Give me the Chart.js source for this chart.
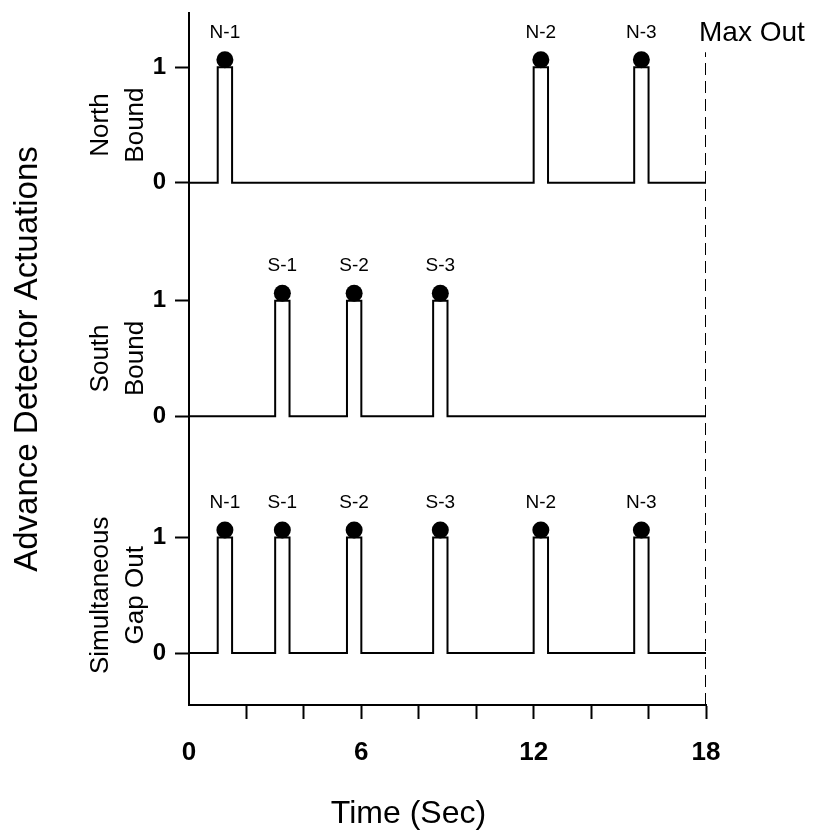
<!DOCTYPE html>
<html>
<head>
<meta charset="utf-8">
<script src="https://cdn.jsdelivr.net/npm/chart.js@4.4.1/dist/chart.umd.min.js"></script>
<style>
  html, body { margin: 0; padding: 0; background: #fff; }
</style>
</head>
<body>
<canvas id="chart" width="817" height="836"></canvas>
<script>
// 三段 detector 脈衝圖：North / South / Simultaneous Gap Out，共用同一條時間軸。
const FONT = '"Liberation Sans", Arial, Helvetica, sans-serif'

// pulse 起點 (sec)，每個寬 PULSE_WIDTH
const NORTH_ON = [1.0, 12.0, 15.5]
const NORTH_NAMES = ['N-1', 'N-2', 'N-3']
const SOUTH_ON = [3.0, 5.5, 8.5]
const SOUTH_NAMES = ['S-1', 'S-2', 'S-3']
const GAP_ON = [1.0, 3.0, 5.5, 8.5, 12.0, 15.5]
const GAP_NAMES = ['N-1', 'S-1', 'S-2', 'S-3', 'N-2', 'N-3']
const PULSE_WIDTH = 0.5
const MAX_OUT = 18

const X_TICKS = [0, 2, 4, 6, 8, 10, 12, 14, 16, 18]
const X_LABELS = [0, 6, 12, 18]
const Y_TICK_LABELS = ['0', '1']
const PANEL_TITLES = [['North', 'Bound'], ['South', 'Bound'], ['Simultaneous', 'Gap Out']]

// 版面：每段的基準高度（y 軸單位）
const PANEL_BASE = [4.07, 2.05, 0]
const Y_MIN = -0.45
const Y_MAX = 5.54
const DOT_LIFT = 0.065

const PANELS = [
  { on: NORTH_ON, names: NORTH_NAMES, title: PANEL_TITLES[0], base: PANEL_BASE[0] },
  { on: SOUTH_ON, names: SOUTH_NAMES, title: PANEL_TITLES[1], base: PANEL_BASE[1] },
  { on: GAP_ON, names: GAP_NAMES, title: PANEL_TITLES[2], base: PANEL_BASE[2] },
]

function stepPoints(on, base) {
  const pts = [{ x: 0, y: base }]
  on.forEach(t => {
    pts.push({ x: t, y: base }, { x: t, y: base + 1 },
      { x: t + PULSE_WIDTH, y: base + 1 }, { x: t + PULSE_WIDTH, y: base })
  })
  pts.push({ x: MAX_OUT, y: base })
  return pts
}

const lineSets = PANELS.map(p => ({
  data: stepPoints(p.on, p.base),
  borderColor: '#000',
  borderWidth: 2,
  pointRadius: 0,
  tension: 0,
  fill: false,
}))

const dotSet = {
  data: PANELS.flatMap(p => p.on.map(t => ({ x: t + PULSE_WIDTH / 2, y: p.base + 1 + DOT_LIFT }))),
  showLine: false,
  pointRadius: 8.5,
  pointBackgroundColor: '#000',
  pointBorderColor: '#000',
  pointBorderWidth: 0,
}

const maxOutSet = {
  data: [{ x: MAX_OUT, y: Y_MIN }, { x: MAX_OUT, y: 5.2 }],
  borderColor: '#000',
  borderWidth: 2,
  borderDash: [12, 6],
  pointRadius: 0,
}

const yTickValues = PANELS.slice().reverse().flatMap(p => [p.base, p.base + 1])

const annotate = {
  id: 'annotate',
  afterDatasetsDraw(chart) {
    const { ctx, scales: { x, y } } = chart
    ctx.save()
    ctx.fillStyle = '#000'

    ctx.font = `19px ${FONT}`
    ctx.textAlign = 'center'
    ctx.textBaseline = 'middle'
    PANELS.forEach(p => p.on.forEach((t, i) => {
      ctx.fillText(p.names[i], x.getPixelForValue(t + PULSE_WIDTH / 2), y.getPixelForValue(p.base + 1) - 35)
    }))

    ctx.font = `26px ${FONT}`
    ctx.textBaseline = 'alphabetic'
    PANELS.forEach(p => {
      const cy = y.getPixelForValue(p.base + 0.5)
      p.title.forEach((line, i) => {
        ctx.save()
        ctx.translate(108 + i * 35, cy)
        ctx.rotate(-Math.PI / 2)
        ctx.fillText(line, 0, 0)
        ctx.restore()
      })
    })

    ctx.font = `28px ${FONT}`
    ctx.textAlign = 'left'
    ctx.textBaseline = 'middle'
    ctx.fillText('Max Out', x.getPixelForValue(MAX_OUT) - 7, 33)
    ctx.restore()
  },
}

new Chart(document.getElementById('chart'), {
  type: 'line',
  data: { datasets: [...lineSets, dotSet, maxOutSet] },
  options: {
    responsive: false,
    animation: false,
    devicePixelRatio: 1,
    layout: { padding: { top: 13, left: 0, right: 0, bottom: 0 } },
    plugins: {
      legend: { display: false },
      tooltip: { enabled: false },
      title: {
        display: true,
        position: 'bottom',
        text: 'Time (Sec)',
        color: '#000',
        font: { family: FONT, size: 32, weight: 'normal' },
        padding: { top: 0, bottom: 3 },
      },
    },
    scales: {
      x: {
        type: 'linear',
        min: 0,
        max: 18,
        afterBuildTicks: s => { s.ticks = X_TICKS.map(v => ({ value: v })) },
        afterFit: s => {
          s.height = 836 - (32 * 1.2 + 3) - 705
          s.paddingLeft = 0
          s.paddingRight = 0
        },
        ticks: {
          color: '#000',
          font: { family: FONT, size: 26, weight: 'bold' },
          padding: 18,
          maxRotation: 0,
          autoSkip: false,
          callback: v => (X_LABELS.includes(v) ? String(v) : ''),
        },
        grid: {
          drawOnChartArea: false,
          tickLength: 14,
          tickWidth: 2,
          color: c => (c.tick && c.tick.value === 0 ? 'rgba(0,0,0,0)' : '#000'),
        },
        border: { display: true, color: '#000', width: 2 },
      },
      y: {
        type: 'linear',
        min: Y_MIN,
        max: Y_MAX,
        afterBuildTicks: s => { s.ticks = yTickValues.map(v => ({ value: v })) },
        afterFit: s => {
          s.width = 189
          s.paddingTop = 0
          s.paddingBottom = 0
        },
        ticks: {
          color: '#000',
          font: { family: FONT, size: 24, weight: 'bold' },
          padding: 9,
          autoSkip: false,
          callback: (v, i) => Y_TICK_LABELS[i % 2],
        },
        grid: { drawOnChartArea: false, tickLength: 14, tickWidth: 2, color: '#000' },
        border: { display: true, color: '#000', width: 2 },
        title: {
          display: true,
          text: 'Advance Detector Actuations',
          color: '#000',
          font: { family: FONT, size: 33, weight: 'normal' },
          padding: { top: 8 },
        },
      },
      y2: {
        type: 'linear',
        position: 'right',
        display: true,
        afterFit: s => {
          s.width = 111
          s.paddingTop = 0
          s.paddingBottom = 0
        },
        ticks: { display: false },
        grid: { display: false },
        border: { display: false },
      },
    },
  },
  plugins: [annotate],
})
</script>
</body>
</html>
